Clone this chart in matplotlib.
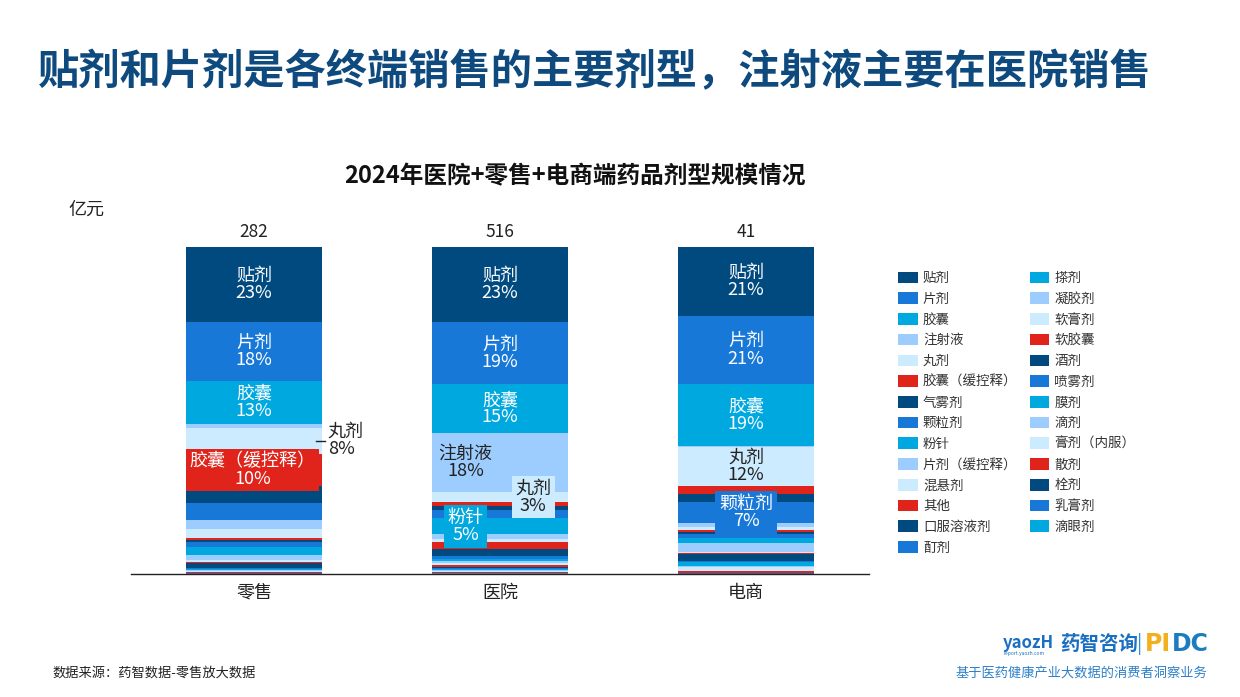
import matplotlib
matplotlib.use("Agg")
import matplotlib.pyplot as plt
from matplotlib.patches import Patch
import numpy as np

plt.rcParams['font.family'] = ['Noto Sans CJK SC', 'DejaVu Sans']

# ---------------- data ----------------
channels = ["零售", "医院", "电商"]
totals = [282, 516, 41]  # 亿元

forms = ["贴剂", "片剂", "胶囊", "注射液", "丸剂", "胶囊（缓控释）", "气雾剂", "颗粒剂",
         "粉针", "片剂（缓控释）", "混悬剂", "其他", "口服溶液剂", "酊剂", "搽剂",
         "凝胶剂", "软膏剂", "软胶囊", "酒剂", "喷雾剂", "膜剂", "滴剂", "膏剂（内服）",
         "散剂", "栓剂", "乳膏剂", "滴眼剂"]

# share (%) of each dosage form, per channel
share_retail = [23, 18, 13, 1.2, 8, 10, 5.0, 5.3, 0.0, 2.7, 2.7, 0.6, 0.6, 1.5, 2.7,
                1.5, 0.4, 0.4, 1.5, 0.3, 0.3, 0.5, 0.3, 0.2, 0.1, 0.1, 0.1]
share_hospital = [23, 19, 15, 18, 3, 1.2, 1.2, 2.7, 4.8, 1.5, 0.9, 2.1, 2.2, 0.8, 0.6,
                  0.8, 0.6, 0.6, 0.3, 0.3, 0.4, 0.3, 0.2, 0.2, 0.1, 0.1, 0.2]
share_online = [21, 21, 19, 0.2, 12, 2.4, 2.4, 6.5, 0.0, 1.2, 1.0, 0.5, 0.6, 1.3, 1.5,
                2.7, 0.4, 0.4, 2.0, 0.3, 1.2, 0.4, 1.2, 0.6, 0.1, 0.1, 0.1]

palette = ["#004A80", "#1878D8", "#00A8E0", "#9DCDFF", "#CCEBFE", "#E0241B"]

# ---------------- figure ----------------
fig = plt.figure(figsize=(12.4, 6.97), dpi=100)
ax = fig.add_axes([131 / 1240, 1 - 574 / 697, 738 / 1240, 327 / 697])

x = np.arange(len(channels))
width = 0.553
data = np.array([share_retail, share_hospital, share_online])  # (3, n)
data = data / data.sum(axis=1, keepdims=True) * 100

handles = []
top = np.full(3, 100.0)
for i, name in enumerate(forms):
    col = palette[i % 6]
    vals = data[:, i]
    ax.bar(x, vals, width, bottom=top - vals, color=col, linewidth=0)
    top = top - vals
    handles.append(Patch(facecolor=col, edgecolor='none', label=name))

ax.set_xlim(-0.5, 2.5)
ax.set_ylim(0, 100)
for s in ["left", "right", "top"]:
    ax.spines[s].set_visible(False)
ax.spines["bottom"].set_color("#222222")
ax.spines["bottom"].set_linewidth(1.0)
ax.set_yticks([])
ax.set_xticks(x)
ax.set_xticklabels(channels, fontsize=13, color="#222222")
ax.tick_params(axis='x', length=0, pad=7)

# totals
for xi, t in zip(x, totals):
    ax.text(xi, 104.6, str(t), ha='center', va='center', fontsize=12.5, color="#222222")

# cumulative positions
cum_top = 100 - np.concatenate([np.zeros((3, 1)), np.cumsum(data, axis=1)[:, :-1]], axis=1)
mid = cum_top - data / 2

def lab(ci, fi, txt, dx=0.0, color="white", box=None, ha='center', dy=0.0):
    kw = {}
    if box is not None:
        kw['bbox'] = dict(boxstyle="square,pad=0.2", facecolor=box, edgecolor='none')
    ax.text(x[ci] + dx, mid[ci, fi] + dy, txt, ha=ha, va='center', fontsize=13,
            color=color, linespacing=0.95, **kw)

for ci, pcts in enumerate([(23, 18, 13), (23, 19, 15), (21, 21, 19)]):
    for fi, p in enumerate(pcts):
        lab(ci, fi, f"{forms[fi]}\n{p}%")

# 零售
ax.plot([x[0] + 0.25, x[0] + 0.29], [mid[0, 4], mid[0, 4]], color="#222222", lw=1)
ax.text(x[0] + 0.30, mid[0, 4], "丸剂\n8%", ha='left', va='center', fontsize=13,
        color="#222222", linespacing=0.95)
lab(0, 5, "胶囊（缓控释）\n10%", dx=-0.005, box=palette[5])
# 医院
lab(1, 3, "注射液\n18%", dx=-0.14, color="#222222")
lab(1, 4, "丸剂\n3%", dx=0.135, color="#222222", box=palette[4])
lab(1, 8, "粉针\n5%", dx=-0.14, box=palette[2])
# 电商
lab(2, 4, "丸剂\n12%", color="#222222")
lab(2, 7, "颗粒剂\n7%", box=palette[1])

# legend
leg = fig.legend(handles=handles, ncol=2, loc='upper left',
                 bbox_to_anchor=(898 / 1240, 1 - 271 / 697), frameon=False,
                 fontsize=9.7, handlelength=1.45, handleheight=0.95, handletextpad=0.4,
                 labelspacing=0.50, columnspacing=0.9, borderaxespad=0, borderpad=0)
for t in leg.get_texts():
    t.set_color("#333333")

# titles
fig.text(38 / 1240, 1 - 72 / 697, "贴剂和片剂是各终端销售的主要剂型，注射液主要在医院销售",
         ha='left', va='center', fontsize=29.7, fontweight='bold', color="#0F4A7E")
fig.text(575 / 1240, 1 - 176 / 697, "2024年医院+零售+电商端药品剂型规模情况",
         ha='center', va='center', fontsize=17, fontweight='bold', color="#111111")
fig.text(68 / 1240, 1 - 210 / 697, "亿元", ha='left', va='center', fontsize=13,
         color="#222222", style='italic')

# footer
fig.text(52 / 1240, 1 - 673 / 697, "数据来源：药智数据-零售放大数据", ha='left', va='center',
         fontsize=9.5, color="#222222")
fig.text(1207 / 1240, 1 - 673 / 697, "基于医药健康产业大数据的消费者洞察业务", ha='right',
         va='center', fontsize=9.5, color="#2E80C8")
fig.text(1003 / 1240, 1 - 643 / 697, "yaozH", ha='left', va='center', fontsize=12,
         fontweight='bold', color="#1B6FC0")
fig.text(1004 / 1240, 1 - 653 / 697, "report.yaozh.com", ha='left', va='center', fontsize=3.5,
         color="#1B6FC0")
fig.text(1060 / 1240, 1 - 644 / 697, "药智咨询", ha='left', va='center', fontsize=14,
         fontweight='bold', color="#1B6FC0")
fig.text(1137 / 1240, 1 - 644 / 697, "|", ha='left', va='center', fontsize=14, color="#1B9AD6")
fig.text(1145 / 1240, 1 - 644 / 697, "PI", ha='left', va='center', fontsize=17,
         fontweight='bold', color="#F2B01E", family=['DejaVu Sans'])
fig.text(1172 / 1240, 1 - 644 / 697, "DC", ha='left', va='center', fontsize=17,
         fontweight='bold', color="#1C7CC0", family=['DejaVu Sans'])

fig.savefig("out.png", dpi=100)
